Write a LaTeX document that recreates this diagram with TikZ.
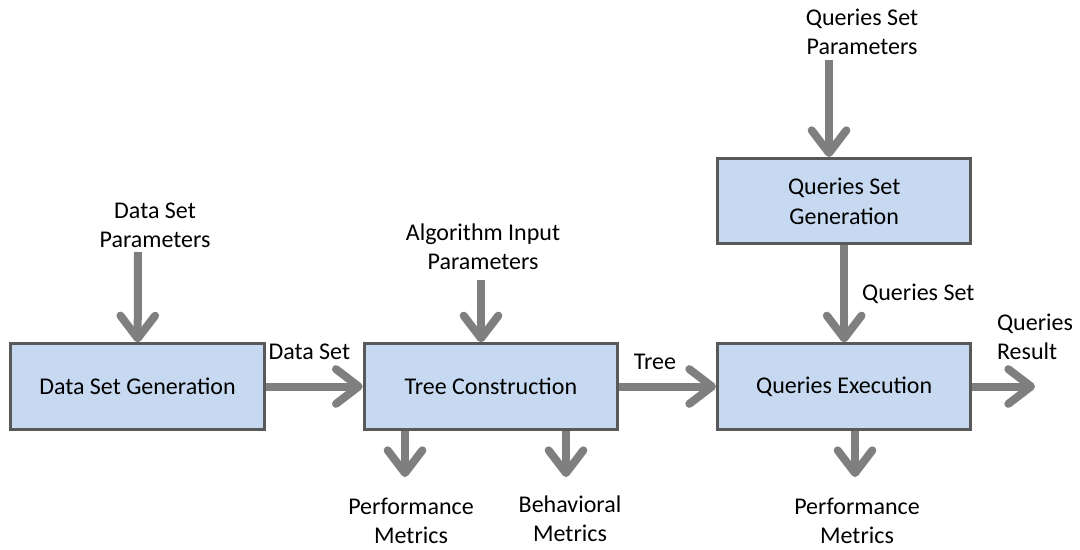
\documentclass[tikz,border=0pt]{standalone}
\usepackage{fontspec}
\setmainfont{Carlito}
\usetikzlibrary{arrows.meta, positioning}
\definecolor{boxblue}{HTML}{C6D9F1}
\definecolor{boxedge}{HTML}{595959}
\definecolor{arrgray}{HTML}{7F7F7F}

\begin{document}
\begin{tikzpicture}[
    x=0.75pt, y=-0.75pt,
    node distance=72.75pt,
    every node/.style={font=\fontsize{18}{22}\selectfont, align=center, text=black},
    block/.style={rectangle, draw=boxedge, fill=boxblue, line width=2.25pt,
                  minimum width=190pt, minimum height=64pt, inner sep=2pt},
    lab/.style={inner sep=0pt},
    arr/.style={-{Straight Barb[length=17pt, width=26pt, round]},
                line width=6pt, color=arrgray}
]
\useasboundingbox (0,0) rectangle (1080,549);

% Blocks
\node[block] (dsg) at (137.5,386.5) {Data Set Generation};
\node[block, right=of dsg] (tc) {Tree Construction};
\node[block, right=of tc] (qe) {Queries Execution};
\node[block, above=of qe] (qsg) {Queries Set\\Generation};

% Inputs and outputs
\node[lab] (dsp) at (155,225) {Data Set\\Parameters};
\node[lab] (aip) at (483,247) {Algorithm Input\\Parameters};
\node[lab] (qsp) at (862,32) {Queries Set\\Parameters};
\node[lab] (pm1) at (411,521) {Performance\\Metrics};
\node[lab] (bm) at (570,519) {Behavioral\\Metrics};
\node[lab] (pm2) at (857,521) {Performance\\Metrics};
\node[lab, align=left] (qr) at (1035,337) {Queries\\Result};

\coordinate (dspend) at (138,252);
\coordinate (aipend) at (481,280);
\coordinate (qspend) at (829,60);
\coordinate (pm1end) at (405,477);
\coordinate (bmend) at (566,477);
\coordinate (pm2end) at (855,477);
\coordinate (qrend) at (1035,386.5);

% Arrows
\draw[arr] (dspend) -- (dsg);
\draw[arr] (aipend) -- (aipend |- tc.north);
\draw[arr] (qspend) -- (qspend |- qsg.north);
\draw[arr] (dsg) -- node[lab, above=17pt, pos=0.45] {Data Set} (tc);
\draw[arr] (tc) -- node[lab, above=10pt, pos=0.37] {Tree} (qe);
\draw[arr] (qsg) -- node[lab, right=10.5pt] {Queries Set} (qe);
\draw[arr] (qe) -- (qrend);
\draw[arr] (tc.south -| pm1end) -- (pm1end);
\draw[arr] (tc.south -| bmend) -- (bmend);
\draw[arr] (qe.south -| pm2end) -- (pm2end);

\end{tikzpicture}
\end{document}
